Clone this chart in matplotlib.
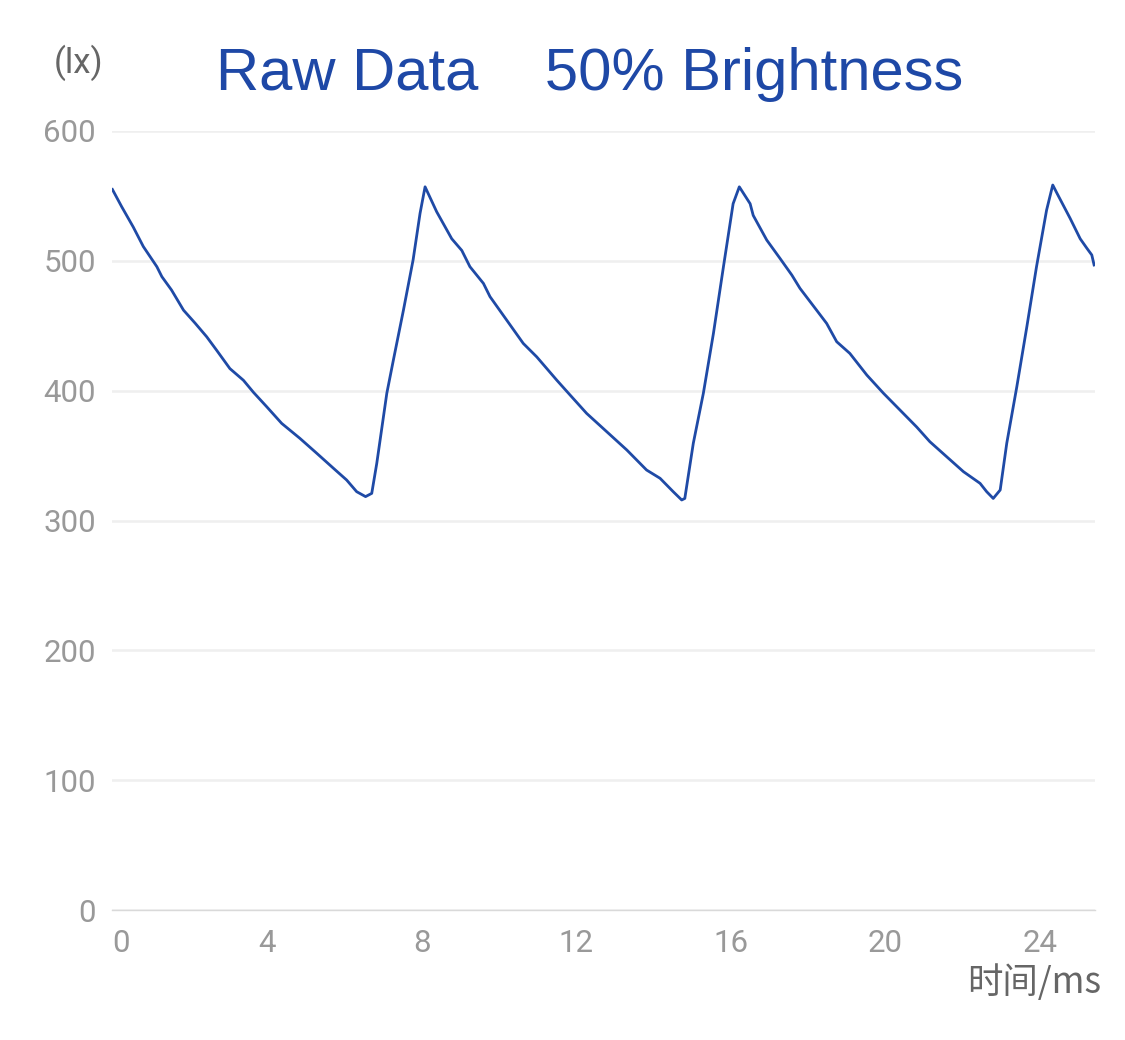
import matplotlib
matplotlib.use("Agg")
import matplotlib.pyplot as plt

# ---- data ----
time_ms = [0.00, 0.24, 0.54, 0.80, 1.15, 1.28, 1.53, 1.84, 2.14, 2.44, 2.70, 3.04, 3.39, 3.65, 3.99,
           4.38, 4.85, 5.29, 5.72, 6.06, 6.32, 6.55, 6.71,
           6.84, 7.10, 7.27, 7.53, 7.78, 7.96, 8.09,
           8.39, 8.78, 9.04, 9.25, 9.60, 9.77, 10.20, 10.63, 10.98, 11.50, 11.84, 12.27, 12.79,
           13.31, 13.82, 14.17, 14.51, 14.73, 14.81,
           15.03, 15.29, 15.55, 15.81, 16.06, 16.22,
           16.50, 16.58, 16.93, 17.27, 17.58, 17.79, 18.22, 18.48, 18.74, 19.08, 19.52, 19.95,
           20.38, 20.81, 21.15, 21.59, 22.02, 22.45, 22.62, 22.79, 22.97,
           23.14, 23.40, 23.66, 23.91, 24.17, 24.33,
           24.44, 24.78, 25.04, 25.21, 25.34, 25.40]
lux = [555, 541.7, 526, 511, 495.5, 487.8, 477.5, 462, 452, 441.5, 431, 417, 408, 398.7, 387.7,
       374.8, 363.3, 351.7, 340.2, 331.2, 322.2, 318.4, 320.9,
       344, 398, 423.6, 462, 500.7, 536.6, 557,
       537.8, 517, 508, 495.5, 482.6, 472.4, 454.4, 436.4, 426, 408, 396.7, 382.5, 368.4,
       354.3, 338.9, 332.5, 322.2, 315.8, 317,
       359.5, 398, 444, 495.5, 544, 557,
       544, 535, 516, 502, 489, 478.8, 462, 451.8, 437.7, 428.7, 412, 398,
       385, 372, 360.7, 349, 337.6, 328.6, 322.2, 317, 323.5,
       359.5, 403, 449.3, 495.5, 539, 558.4,
       552, 532.7, 517, 509.8, 504.5, 496.8]

x_ticks = [0, 4, 8, 12, 16, 20, 24]
y_ticks = [0, 100, 200, 300, 400, 500, 600]
title_text = "Raw Data    50% Brightness"
y_unit = "(lx)"
x_unit = "时间/ms"

W, H = 1125, 1040
fig = plt.figure(figsize=(W / 100, H / 100), dpi=100)
fig.patch.set_facecolor("white")

left, right, top, bottom = 112.4, 1095, 131, 910
ax = fig.add_axes([left / W, 1 - bottom / H, (right - left) / W, (bottom - top) / H])
ax.set_xlim(0, (right - left) / 38.65)
ax.set_ylim(0, 600)

line_color = "#1f4aa6"
ax.plot(time_ms, lux, color=line_color, lw=2.0, solid_joinstyle="round", zorder=3)

for s in ["top", "right", "left"]:
    ax.spines[s].set_visible(False)
ax.spines["bottom"].set_color("#d9d9d9")
ax.spines["bottom"].set_linewidth(1.0)
ax.spines["bottom"].set_zorder(2)

ax.set_yticks(y_ticks)
ax.set_xticks(x_ticks)
ax.grid(axis="y", color="#efefef", lw=1.8, zorder=1)
ax.set_axisbelow(True)
ax.tick_params(axis="both", length=0, colors="#999999", labelsize=22.5)
ax.tick_params(axis="y", pad=12)
ax.tick_params(axis="x", pad=14)
for lab in ax.get_xticklabels() + ax.get_yticklabels():
    lab.set_fontfamily(["Roboto", "DejaVu Sans"])
    lab.set_color("#999999")

# first x label sits right of its tick as in the reference
ax.get_xticklabels()[0].set_horizontalalignment("left")

fig.text(590 / W, 1 - 74 / H, title_text, ha="center", va="center", color="#1e48a6",
         fontsize=43, family=["Liberation Sans", "DejaVu Sans"])
fig.text(79 / W, 1 - 63 / H, y_unit, ha="center", va="center", color="#666666",
         fontsize=25, family=["Roboto", "DejaVu Sans"])
fig.text(1101 / W, 1 - 983 / H, x_unit, ha="right", va="center", color="#666666",
         fontsize=25.5, family=["Noto Sans CJK SC", "DejaVu Sans"])

fig.savefig("out.png", dpi=100, facecolor="white")
